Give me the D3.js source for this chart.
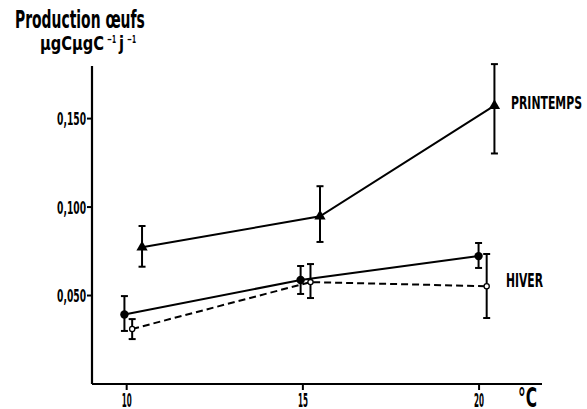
<!DOCTYPE html>
<html><head><meta charset="utf-8">
<script src="https://cdn.jsdelivr.net/npm/d3@7"></script>
<style>body{margin:0;background:#fff}svg{display:block}text{font-family:"DejaVu Sans Condensed","Liberation Sans Narrow","Liberation Sans",sans-serif;font-weight:bold;fill:#000}</style>
</head><body><svg id="c" width="587" height="409"></svg>
<script>
const xTicks = [10, 15, 20];
const yTicks = [0.05, 0.10, 0.15];
const yTickLabels = ["0,050", "0,100", "0,150"];
const printempsX = [10.45, 15.5, 20.45];
const printempsY = [0.077, 0.0945, 0.157];
const printempsLo = [0.066, 0.080, 0.130];
const printempsHi = [0.089, 0.1115, 0.1805];
const hiverX = [9.95, 14.95, 20.0];
const hiverY = [0.039, 0.0585, 0.072];
const hiverLo = [0.0297, 0.0506, 0.0653];
const hiverHi = [0.0494, 0.0664, 0.0794];
const hiver2X = [10.17, 15.23, 20.23];
const hiver2Y = [0.0308, 0.0573, 0.055];
const hiver2Lo = [0.0251, 0.0483, 0.037];
const hiver2Hi = [0.0364, 0.0675, 0.0732];

const svg = d3.select("#c");
const x = d3.scaleLinear().domain([9.03, 21.8]).range([92, 542]);
const y = d3.scaleLinear().domain([0, 0.18]).range([383.5, 65]);

// squeeze a text horizontally to a target width, anchored at (px,py)
function squeeze(t, px, py, w) {
  t.attr("x", 0).attr("y", 0).attr("dy", null);
  const nat = t.node().getComputedTextLength();
  const s = w / nat;
  t.attr("transform", `translate(${px},${py}) scale(${s},1)`);
}

const ax = svg.append("g").attr("transform", "translate(0,384)")
  .call(d3.axisBottom(x).tickValues(xTicks).tickSize(6).tickFormat(d3.format("d")));
ax.attr("font-size", null).attr("font-family", null);
ax.select(".domain").attr("d", "M92,0H542").attr("stroke-width", 2.2);
ax.selectAll(".tick line").attr("stroke-width", 2);
ax.selectAll(".tick text").style("font-size", "19px").attr("text-anchor", "middle")
  .each(function () { squeeze(d3.select(this), 0, 23, 10); });

const ay = svg.append("g").attr("transform", "translate(92,0)")
  .call(d3.axisLeft(y).tickValues(yTicks).tickSize(5).tickFormat((d, i) => yTickLabels[i]));
ay.attr("font-size", null).attr("font-family", null);
ay.select(".domain").attr("d", "M0,384V66").attr("stroke-width", 2.2);
ay.selectAll(".tick line").attr("stroke-width", 2);
ay.selectAll(".tick text").style("font-size", "18px").attr("text-anchor", "end")
  .each(function () { squeeze(d3.select(this), -6, 6.5, 29); });
svg.selectAll(".domain, .tick line").attr("stroke", "#000");

function series(xs, ys, lo, hi, dash) {
  const pts = xs.map((v, i) => ({x: v, y: ys[i], lo: lo[i], hi: hi[i]}));
  const line = d3.line().x(d => x(d.x)).y(d => y(d.y));
  svg.append("path").datum(pts).attr("d", line).attr("fill", "none")
    .attr("stroke", "#000").attr("stroke-width", 2)
    .attr("stroke-dasharray", dash ? "7,4" : null);
  const g = svg.append("g");
  pts.forEach(p => {
    const cx = x(p.x);
    g.append("line").attr("x1", cx).attr("x2", cx).attr("y1", y(p.lo)).attr("y2", y(p.hi))
      .attr("stroke", "#000").attr("stroke-width", 2);
    [p.lo, p.hi].forEach(v => g.append("line").attr("x1", cx - 3.5).attr("x2", cx + 3.5)
      .attr("y1", y(v)).attr("y2", y(v)).attr("stroke", "#000").attr("stroke-width", 2));
  });
  return pts;
}

const p1 = series(printempsX, printempsY, printempsLo, printempsHi, false);
svg.selectAll(".tri").data(p1).join("path")
  .attr("d", d3.symbol(d3.symbolTriangle, 55))
  .attr("transform", d => `translate(${x(d.x)},${y(d.y)})`).attr("fill", "#000");

const p2 = series(hiverX, hiverY, hiverLo, hiverHi, false);
svg.selectAll(".fc").data(p2).join("circle")
  .attr("cx", d => x(d.x)).attr("cy", d => y(d.y)).attr("r", 4.2).attr("fill", "#000");

const p3 = series(hiver2X, hiver2Y, hiver2Lo, hiver2Hi, true);
svg.selectAll(".oc").data(p3).join("circle")
  .attr("cx", d => x(d.x)).attr("cy", d => y(d.y)).attr("r", 2.6)
  .attr("fill", "#fff").attr("stroke", "#000").attr("stroke-width", 1.3);

function label(str, px, py, size, w) {
  const t = svg.append("text").style("font-size", size + "px").text(str);
  squeeze(t, px, py, w);
  return t;
}
label("Production œufs", 15, 28, 25, 130);
label("µgCµgC", 40, 50, 20, 64);
label("−1", 107, 43, 11, 9);
label("j", 119, 50, 20, 5);
label("−1", 127, 43, 11, 9);
label("PRINTEMPS", 511, 109, 18, 71);
label("HIVER", 506, 287, 19, 37);
label("°C", 518, 407, 27, 19);
</script></body></html>
